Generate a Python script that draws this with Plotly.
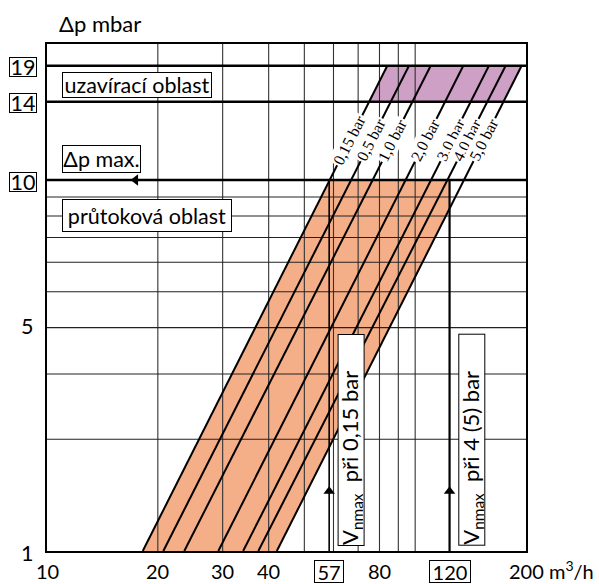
import numpy as np
import plotly.graph_objects as go

# ---------------- data ----------------
PRESSURE_LABELS = ["0,15 bar", "0,5 bar", "1,0 bar", "2,0 bar", "3,0 bar", "4,0 bar", "5,0 bar"]
Q_AT_DP1 = [18.2, 20.7, 23.6, 29.2, 34.1, 37.5, 42.1]          # m3/h where each line meets the bottom (1 mbar)
Q_AT_TOP = [84.0, 96.2, 110.2, 135.1, 158.6, 176.1, 194.6]     # m3/h where each line meets the "19" line

DP_MIN = 1
DP_MAX = 10            # "Δp max." line
DP_CLOSE_LOW = 16.26   # axis position of the boxed "14" line
DP_CLOSE_HIGH = 20.33  # axis position of the boxed "19" line

Y_TICK_TEXT = ["1", "5", "10", "14", "19"]
Y_TICK_POS = [1, 4.08, 10, 16.26, 20.33]
Y_TICK_BOXED = [False, False, True, True, True]

X_TICK_TEXT = ["10", "20", "30", "40", "57", "80", "120"]
X_TICK_POS = [10, 20, 30, 40, 58.4, 80, 124]
X_TICK_BOXED = [False, False, False, False, True, False, True]
X_END_TEXT = "200 m<sup>3</sup>/h"
X_END_POS = 200

X_GRID = [20, 30, 40, 50, 60, 70, 80, 90, 100]
Y_GRID = [2, 3, 4, 5, 6, 7, 8, 9]
Y_THICK = [DP_MAX, DP_CLOSE_LOW, DP_CLOSE_HIGH]

VNMAX_Q = [58.4, 124]
VNMAX_TEXT = ["V<sub>nmax</sub>  při 0,15 bar", "V<sub>nmax</sub>  při 4 (5) bar"]

# ---------------- geometry / styling ----------------
W, H = 599, 584
ML, MR, MT, MB = 47, 73, 44, 33
PW, PH = W - ML - MR, H - MT - MB
XR = [1.0, np.log10(200)]
YR = [0.0, 1.3666]

ORANGE = "#F4AE88"
PURPLE = "#CFA0C5"
FONT = "Lato"
SERIF = "Liberation Serif"
FS = 21.5


def px_x(px):
    return (px - ML) / PW


def px_y(py):
    return (H - MB - py) / PH


def q_on_line(i, dp):
    a, b = np.log10(Q_AT_DP1[i]), np.log10(Q_AT_TOP[i])
    t = np.log10(dp) / np.log10(DP_CLOSE_HIGH)
    return 10 ** (a + (b - a) * t)


def dp_on_line(i, q):
    a, b = np.log10(Q_AT_DP1[i]), np.log10(Q_AT_TOP[i])
    t = (np.log10(q) - a) / (b - a)
    return 10 ** (t * np.log10(DP_CLOSE_HIGH))


fig = go.Figure()
last = len(PRESSURE_LABELS) - 1

# flow region (orange)
ox = [Q_AT_DP1[0], q_on_line(0, DP_MAX), VNMAX_Q[1], VNMAX_Q[1], Q_AT_DP1[last]]
oy = [DP_MIN, DP_MAX, DP_MAX, dp_on_line(last, VNMAX_Q[1]), DP_MIN]
fig.add_trace(go.Scatter(x=ox, y=oy, fill="toself", fillcolor=ORANGE, mode="lines",
                         line=dict(width=0), hoverinfo="skip"))
# closing region (purple)
px_ = [q_on_line(0, DP_CLOSE_LOW), q_on_line(0, DP_CLOSE_HIGH),
       q_on_line(last, DP_CLOSE_HIGH), q_on_line(last, DP_CLOSE_LOW)]
py_ = [DP_CLOSE_LOW, DP_CLOSE_HIGH, DP_CLOSE_HIGH, DP_CLOSE_LOW]
fig.add_trace(go.Scatter(x=px_, y=py_, fill="toself", fillcolor=PURPLE, mode="lines",
                         line=dict(width=0), hoverinfo="skip"))

# grid lines
gx, gy = [], []
for v in X_GRID:
    gx += [v, v, None]
    gy += [DP_MIN, 10 ** YR[1], None]
fig.add_trace(go.Scatter(x=gx, y=gy, mode="lines", line=dict(color="#333", width=1.1), hoverinfo="skip"))
hx, hy = [], []
for v in Y_GRID:
    hx += [10, 200, None]
    hy += [v, v, None]
fig.add_trace(go.Scatter(x=hx, y=hy, mode="lines", line=dict(color="#222", width=1.1), hoverinfo="skip"))
tx, ty = [], []
for v in Y_THICK:
    tx += [10, 200, None]
    ty += [v, v, None]
fig.add_trace(go.Scatter(x=tx, y=ty, mode="lines", line=dict(color="black", width=2.4), hoverinfo="skip"))

# Vnmax vertical lines
for q, w in zip(VNMAX_Q, [1.6, 2.2]):
    fig.add_trace(go.Scatter(x=[q, q], y=[DP_MIN, DP_MAX], mode="lines",
                             line=dict(color="black", width=w), hoverinfo="skip"))

# pressure lines
for i in range(len(PRESSURE_LABELS)):
    fig.add_trace(go.Scatter(x=[Q_AT_DP1[i], Q_AT_TOP[i]], y=[DP_MIN, DP_CLOSE_HIGH], mode="lines",
                             line=dict(color="black", width=2), hoverinfo="skip"))

# arrow heads
ARROW_UP_DP = 1.45
ARROW_LEFT_Q = 17.4
fig.add_trace(go.Scatter(x=VNMAX_Q, y=[ARROW_UP_DP] * 2, mode="markers",
                         marker=dict(symbol="triangle-up", size=10, color="black"), hoverinfo="skip"))
fig.add_trace(go.Scatter(x=[ARROW_LEFT_Q], y=[DP_MAX], mode="markers",
                         marker=dict(symbol="triangle-left", size=10, color="black"), hoverinfo="skip"))

ann = []


def box(text, cx, cy, w, h, size=FS, **kw):
    d = dict(text=text, xref="paper", yref="paper", x=px_x(cx), y=px_y(cy),
             xanchor="center", yanchor="middle", showarrow=False,
             font=dict(family=FONT, size=size, color="black"),
             bgcolor="white", bordercolor="black", borderwidth=1, borderpad=0,
             width=w, height=h)
    d.update(kw)
    ann.append(d)


def label(text, cx, cy, size=FS, **kw):
    d = dict(text=text, xref="paper", yref="paper", x=px_x(cx), y=px_y(cy),
             xanchor="center", yanchor="middle", showarrow=False,
             font=dict(family=FONT, size=size, color="black"))
    d.update(kw)
    ann.append(d)


# title
label("Δp mbar", 100, 23, size=22)
# region boxes
box("uzavírací oblast", 136.7, 84.8, 148, 24)
box("Δp max.", 101.5, 159.3, 77, 26)
box("průtoková oblast", 147, 216, 168, 31)

# y tick labels
for t, v, b in zip(Y_TICK_TEXT, Y_TICK_POS, Y_TICK_BOXED):
    py = H - MB - PH * np.log10(v) / YR[1]
    if b:
        box(t, 22.8, py + 1.5, 26, 18)
    else:
        label(t, 27, py + 2)

# x tick labels
XFS = 20
for t, v, b in zip(X_TICK_TEXT, X_TICK_POS, X_TICK_BOXED):
    pxv = ML + PW * (np.log10(v) - XR[0]) / (XR[1] - XR[0])
    if b:
        box(t, pxv, 571, 28 + 12 * (len(t) - 2), 21, size=XFS)
    else:
        label(t, pxv, 571, size=XFS)
pxe = ML + PW * (np.log10(X_END_POS) - XR[0]) / (XR[1] - XR[0])
label(X_END_TEXT, pxe - 19, 570, xanchor="left", size=XFS)

# pressure line labels
LABEL_FRAC = 0.8107
dpl = 10 ** (LABEL_FRAC * YR[1])
for i, t in enumerate(PRESSURE_LABELS):
    q = q_on_line(i, dpl)
    ann.append(dict(text=t, xref="x", yref="y", x=np.log10(q), y=np.log10(dpl),
                    showarrow=False, textangle=-63, bgcolor="white", borderpad=1,
                    font=dict(family=SERIF, size=16, color="black")))

# Vnmax boxes
for q, t, cx in zip(VNMAX_Q, VNMAX_TEXT, [351.3, 472]):
    ann.append(dict(text=t, xref="paper", yref="paper", x=px_x(cx), y=px_y(439.7),
                    xanchor="center", yanchor="middle", showarrow=False, textangle=-90,
                    width=210, height=25, align="left", borderpad=0,
                    bgcolor="white", bordercolor="black", borderwidth=1,
                    font=dict(family=FONT, size=22, color="black")))

fig.update_layout(
    width=W, height=H, margin=dict(l=ML, r=MR, t=MT, b=MB),
    paper_bgcolor="white", plot_bgcolor="white", showlegend=False,
    hovermode=False, annotations=ann,
    xaxis=dict(type="log", range=XR, showgrid=False, zeroline=False, showticklabels=False,
               ticks="", showline=True, mirror=True, linecolor="black", linewidth=2),
    yaxis=dict(type="log", range=YR, showgrid=False, zeroline=False, showticklabels=False,
               ticks="", showline=True, mirror=True, linecolor="black", linewidth=2),
)
fig.write_html("out.html")
